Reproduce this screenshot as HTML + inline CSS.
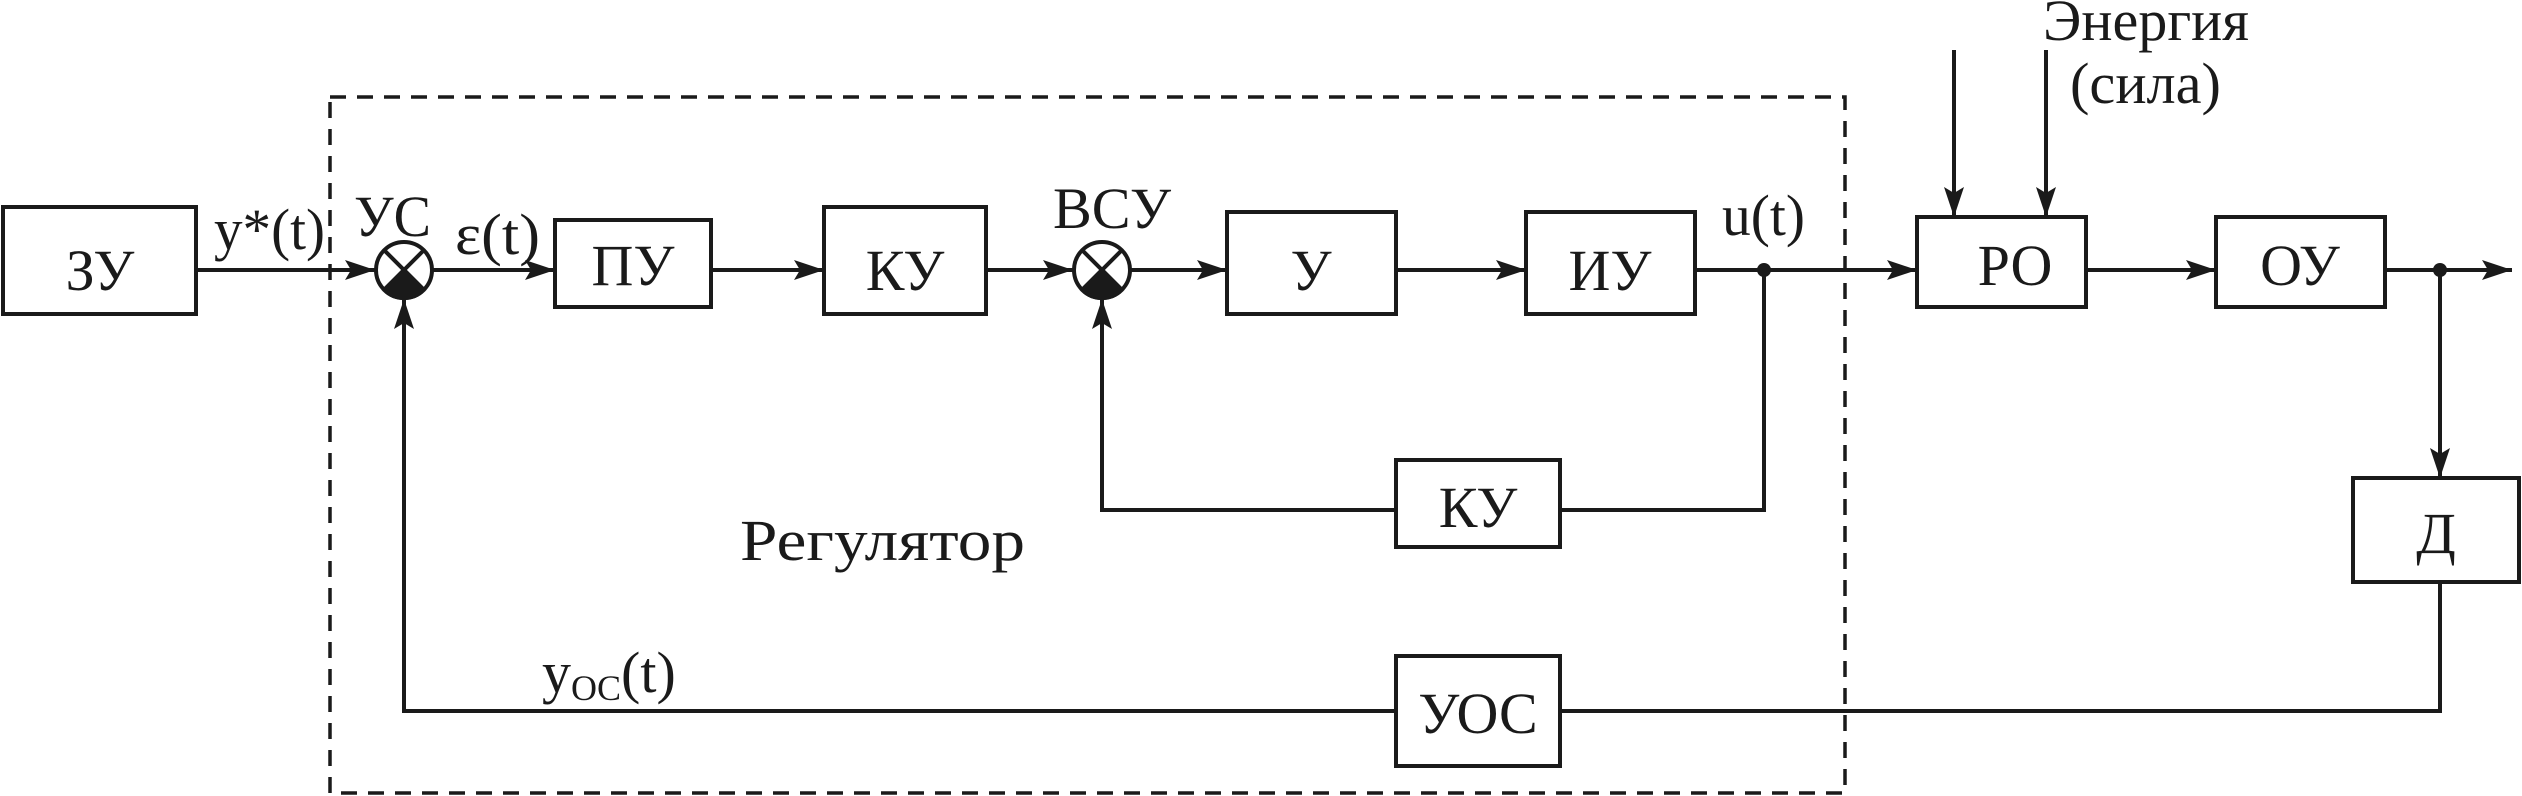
<!DOCTYPE html>
<html><head><meta charset="utf-8"><style>html,body{margin:0;padding:0;background:#fff}svg{display:block}</style></head><body>
<svg width="2522" height="796" viewBox="0 0 2522 796" xmlns="http://www.w3.org/2000/svg">
<defs><marker id="a" markerWidth="10" markerHeight="8" refX="10" refY="4" orient="auto" markerUnits="userSpaceOnUse" viewBox="0 0 10 8"><path d="M0,0 L10,4 L0,8 z" fill="#1a1a1a"/></marker>
<marker id="b" viewBox="0 0 30 20" refX="30" refY="10" markerWidth="30" markerHeight="20" orient="auto" markerUnits="userSpaceOnUse"><path d="M0,0 L30,10 L0,20 L6,10 z" fill="#1a1a1a"/></marker></defs>
<g fill="none" stroke="#1a1a1a" stroke-width="4">
<rect x="330" y="97" width="1515" height="696" stroke-dasharray="16,11" stroke-width="3.5"/>
<rect x="3" y="207" width="193" height="107"/>
<rect x="555" y="220" width="156" height="87"/>
<rect x="824" y="207" width="162" height="107"/>
<rect x="1227" y="212" width="169" height="102"/>
<rect x="1526" y="212" width="169" height="102"/>
<rect x="1917" y="217" width="169" height="90"/>
<rect x="2216" y="217" width="169" height="90"/>
<rect x="2353" y="478" width="166" height="104"/>
<rect x="1396" y="460" width="164" height="87"/>
<rect x="1396" y="656" width="164" height="110"/>
<line x1="196" y1="270" x2="375" y2="270" marker-end="url(#b)"/>
<line x1="433" y1="270" x2="555" y2="270" marker-end="url(#b)"/>
<line x1="711" y1="270" x2="824" y2="270" marker-end="url(#b)"/>
<line x1="986" y1="270" x2="1073" y2="270" marker-end="url(#b)"/>
<line x1="1131" y1="270" x2="1227" y2="270" marker-end="url(#b)"/>
<line x1="1396" y1="270" x2="1526" y2="270" marker-end="url(#b)"/>
<line x1="1695" y1="270" x2="1917" y2="270" marker-end="url(#b)"/>
<line x1="2086" y1="270" x2="2216" y2="270" marker-end="url(#b)"/>
<line x1="2385" y1="270" x2="2512" y2="270" marker-end="url(#b)"/>
<line x1="2440" y1="270" x2="2440" y2="478" marker-end="url(#b)"/>
<line x1="1954" y1="50" x2="1954" y2="217" marker-end="url(#b)"/>
<line x1="2046" y1="50" x2="2046" y2="217" marker-end="url(#b)"/>
<polyline points="1764,270 1764,510 1560,510"/>
<polyline points="1396,510 1102,510 1102,299" marker-end="url(#b)"/>
<polyline points="2440,582 2440,711 1560,711"/>
<polyline points="1396,711 404,711 404,299" marker-end="url(#b)"/>
</g>
<g fill="#1a1a1a">
<circle cx="1764" cy="270" r="7"/><circle cx="2440" cy="270" r="7"/>
</g>
<g stroke="#1a1a1a" stroke-width="4" fill="#fff">
<circle cx="404" cy="270" r="28"/><path d="M384.2,289.8 A28,28 0 0 0 423.8,289.8 L404,270 z" fill="#1a1a1a"/><line x1="384.2" y1="250.2" x2="423.8" y2="289.8"/><line x1="423.8" y1="250.2" x2="384.2" y2="289.8"/>
<circle cx="1102" cy="270" r="28"/><path d="M1082.2,289.8 A28,28 0 0 0 1121.8,289.8 L1102,270 z" fill="#1a1a1a"/><line x1="1082.2" y1="250.2" x2="1121.8" y2="289.8"/><line x1="1121.8" y1="250.2" x2="1082.2" y2="289.8"/>
</g>
<g font-family="Liberation Serif, serif" font-size="58" fill="#1a1a1a">
<text x="100" y="290" text-anchor="middle">ЗУ</text>
<text x="633" y="285" text-anchor="middle">ПУ</text>
<text x="905" y="290" text-anchor="middle">КУ</text>
<text x="1311" y="290" text-anchor="middle">У</text>
<text x="1610" y="290" text-anchor="middle">ИУ</text>
<text x="2015" y="285" text-anchor="middle">РО</text>
<text x="2300" y="285" text-anchor="middle">ОУ</text>
<text x="2436" y="553" text-anchor="middle">Д</text>
<text x="1478" y="527" text-anchor="middle">КУ</text>
<text x="1478" y="733" text-anchor="middle">УОС</text>
<text x="214" y="249" textLength="111" lengthAdjust="spacingAndGlyphs">y*(t)</text>
<text x="354" y="236" textLength="77" lengthAdjust="spacingAndGlyphs">УС</text>
<text x="455" y="254" textLength="85" lengthAdjust="spacingAndGlyphs">ε(t)</text>
<text x="1053" y="228" textLength="118" lengthAdjust="spacingAndGlyphs">ВСУ</text>
<text x="1722" y="235" textLength="83" lengthAdjust="spacingAndGlyphs">u(t)</text>
<text x="2043" y="40" textLength="206" lengthAdjust="spacingAndGlyphs">Энергия</text>
<text x="2070" y="103" textLength="151" lengthAdjust="spacingAndGlyphs">(сила)</text>
<text x="740" y="560" textLength="285" lengthAdjust="spacingAndGlyphs">Регулятор</text>
<text x="542" y="692">y<tspan font-size="36" dy="8">OC</tspan><tspan dy="-8">(t)</tspan></text>
</g>
</svg>
</body></html>
